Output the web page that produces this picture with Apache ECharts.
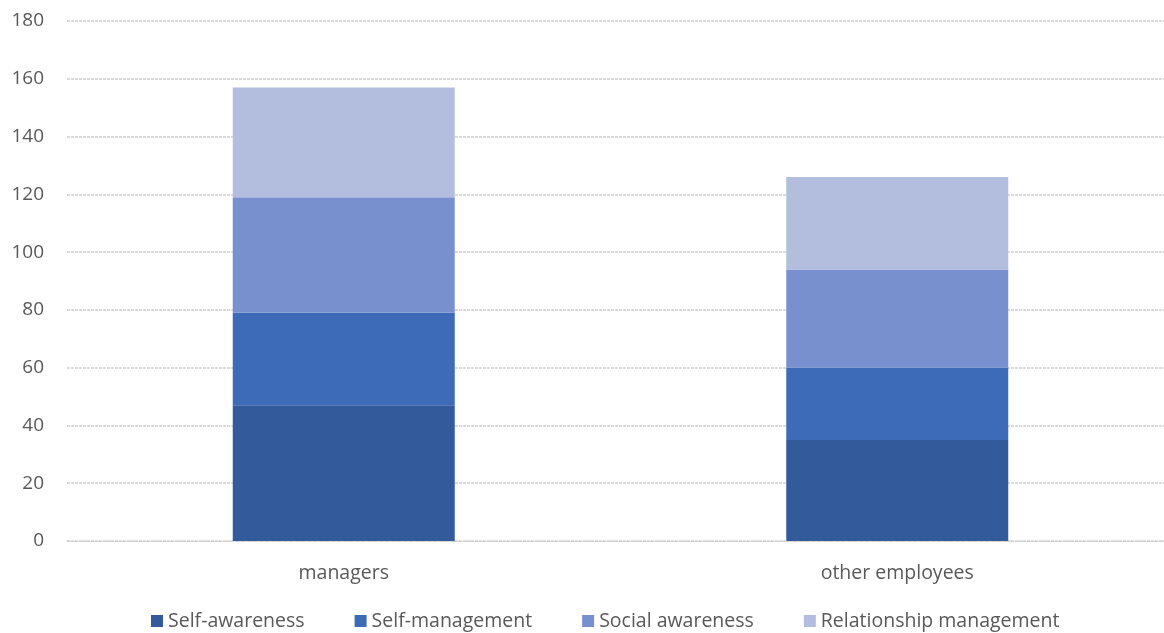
<!DOCTYPE html>
<html>
<head>
<meta charset="utf-8">
<script src="https://cdn.jsdelivr.net/npm/echarts@6/dist/echarts.min.js"></script>
<style>html,body{margin:0;padding:0;background:#fff;overflow:hidden;}#c{width:1174px;height:633px;}</style>
</head>
<body>
<div id="c"></div>
<script>
const categories = ['managers', 'other employees'];
const seriesNames = ['Self-awareness', 'Self-management', 'Social awareness', 'Relationship management'];
const selfAwareness = [47, 35];
const selfManagement = [32, 25];
const socialAwareness = [40, 34];
const relationshipManagement = [38, 32];
const yTicks = [0, 20, 40, 60, 80, 100, 120, 140, 160, 180];

const colors = ['#335A9A', '#3E6BB7', '#7891CE', '#B3BEDF'];
const values = [selfAwareness, selfManagement, socialAwareness, relationshipManagement];
const font = 'Open Sans';

const chart = echarts.init(document.getElementById('c'));
chart.setOption({
  animation: false,
  color: colors,
  grid: { left: 67, right: 0, top: 21, bottom: 92, containLabel: false },
  legend: {
    bottom: -3,
    left: 146,
    itemWidth: 12,
    itemHeight: 12,
    itemGap: 50,
    icon: 'rect',
    textStyle: { color: '#595959', fontSize: 19.5, fontFamily: font },
    data: seriesNames
  },
  xAxis: {
    type: 'category',
    data: categories,
    axisLine: { lineStyle: { color: '#d0d0d0', type: 'dashed' } },
    axisTick: { show: false },
    axisLabel: { color: '#595959', fontSize: 19.5, fontFamily: font, margin: 22 }
  },
  yAxis: {
    type: 'value',
    min: 0,
    max: 180,
    interval: 20,
    axisLine: { show: false },
    axisTick: { show: false },
    axisLabel: { color: '#595959', fontSize: 19, fontFamily: font, margin: 23,
      formatter: v => yTicks.includes(v) ? String(v) : '' },
    splitLine: { lineStyle: { color: '#d0d0d0', type: [3, 1], width: 1.5 } }
  },
  series: seriesNames.map((n, i) => ({
    name: n,
    type: 'bar',
    stack: 'total',
    barWidth: 222,
    data: values[i],
    itemStyle: { color: colors[i] }
  }))
});
</script>
</body>
</html>
